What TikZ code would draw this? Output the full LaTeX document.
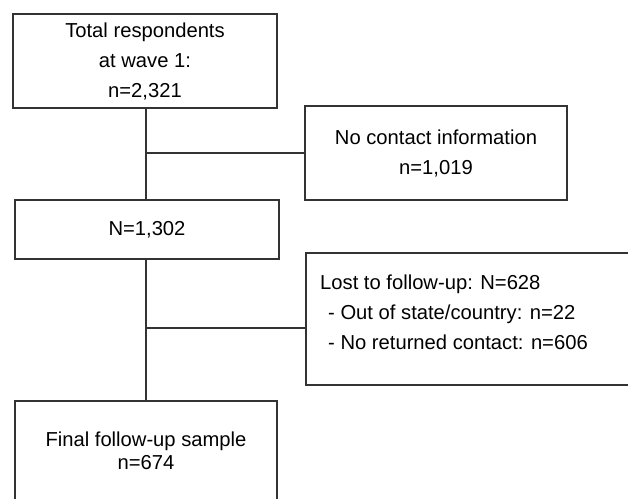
\documentclass[tikz,border=0pt]{standalone}
\usepackage{fontspec}
\setmainfont{Liberation Sans}
\begin{document}
\begin{tikzpicture}[x=1pt,y=-1pt,
  box/.style={draw=black!80, line width=1.4pt, rectangle, inner sep=0pt, align=center},
  conn/.style={draw=black!80, line width=1.4pt},
  wide/.style={font=\fontsize{20.2}{30}\selectfont},
  tight/.style={font=\fontsize{20.2}{23}\selectfont}]
\useasboundingbox (0,0) rectangle (628,498);
\clip (0,0) rectangle (628,498);
\fill[white] (0,0) rectangle (628,498);
\node[box, wide, minimum width=264pt, minimum height=94pt] (b1) at (145,61)
  {\raisebox{6pt}{\parbox{260pt}{\centering Total respondents\\at wave 1:\\n=2,321}}};
\node[box, wide, minimum width=264pt, minimum height=59pt] (b2) at (147,229.5) {N=1,302};
\node[box, wide, minimum width=262pt, minimum height=94pt] (nc) at (436,153)
  {\raisebox{5pt}{\parbox{258pt}{\centering No contact information\\n=1,019}}};
\node[box, minimum width=344pt, minimum height=132pt] (lost) at (478,319) {};
\node[wide, anchor=west, align=left, inner sep=0pt] (losttext) at (320,312.5)
  {Lost to follow-up: N=628\\\hspace{8pt}- Out of state/country: n=22\\\hspace{8pt}- No returned contact: n=606};
\node[box, tight, minimum width=262pt, minimum height=100pt] (fin) at (146,451)
  {Final follow-up sample\\n=674};
\coordinate (j1) at (146,153);
\coordinate (j2) at (146,328);
\draw[conn] (b1.south -| j1) -- (b2.north -| j1);
\draw[conn] (j1) -- (nc.west |- j1);
\draw[conn] (b2.south -| j2) -- (fin.north -| j2);
\draw[conn] (j2) -- (lost.west |- j2);
\end{tikzpicture}
\end{document}
